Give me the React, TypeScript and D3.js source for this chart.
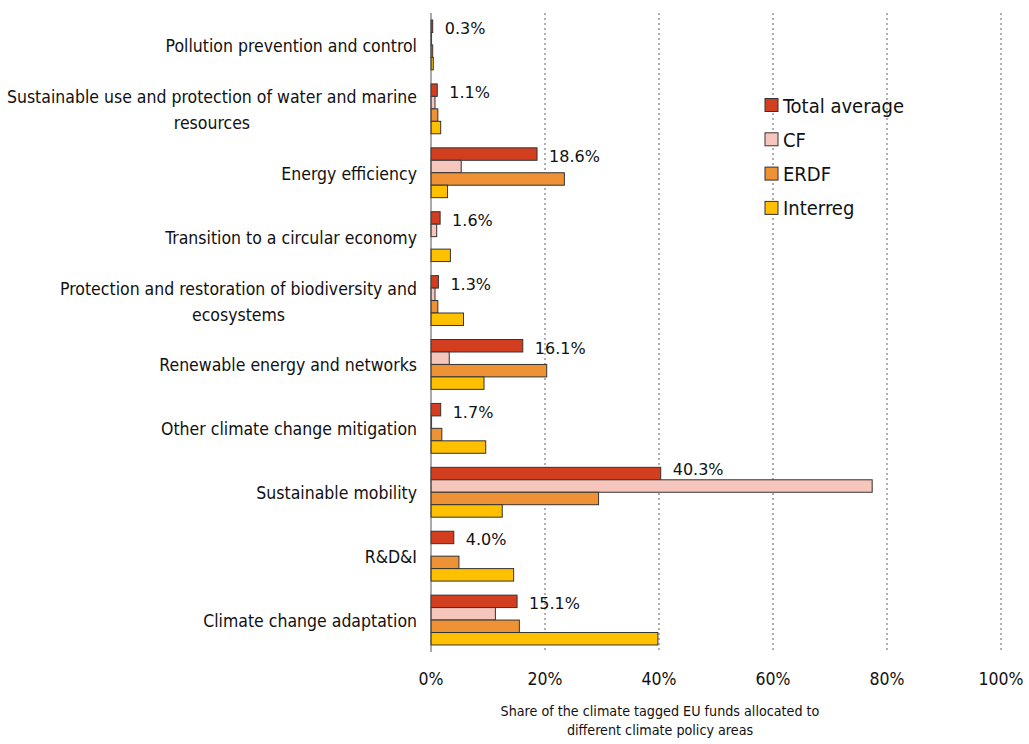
import React, { useEffect, useRef } from "react";
import * as d3 from "d3";

const categories = [
  "Pollution prevention and control",
  "Sustainable use and protection of water and marine\nresources",
  "Energy efficiency",
  "Transition to a circular economy",
  "Protection and restoration of biodiversity and\necosystems",
  "Renewable energy and networks",
  "Other climate change mitigation",
  "Sustainable mobility",
  "R&D&I",
  "Climate change adaptation",
];
const seriesNames = ["Total average", "CF", "ERDF", "Interreg"];
const totalAverage = [0.3, 1.1, 18.6, 1.6, 1.3, 16.1, 1.7, 40.3, 4.0, 15.1];
const cf = [0.1, 0.7, 5.3, 1.0, 0.7, 3.2, 0.1, 77.4, 0, 11.3];
const erdf = [0.3, 1.2, 23.4, 0, 1.2, 20.3, 1.9, 29.4, 4.9, 15.5];
const interreg = [0.4, 1.7, 2.9, 3.4, 5.7, 9.3, 9.6, 12.5, 14.5, 39.8];
const xTicks = [0, 20, 40, 60, 80, 100];
const axisTitle = ["Share of the climate tagged EU funds allocated to", "different climate policy areas"];

const colors = ["#d23e1f", "#f6c5bc", "#ef9236", "#ffc000"];
const narrow = "'Liberation Sans Narrow', 'DejaVu Sans Condensed', sans-serif";

export default function App() {
  const ref = useRef<SVGSVGElement>(null);

  useEffect(() => {
    const svg = d3.select(ref.current);
    svg.selectAll("*").remove();

    const x = d3.scaleLinear().domain([0, 100]).range([431, 1001]);
    const y = d3
      .scaleBand<string>()
      .domain(categories)
      .range([13, 652])
      .paddingInner(0.22)
      .paddingOuter(0.11);
    const inner = d3
      .scaleBand<string>()
      .domain(seriesNames)
      .range([0, y.bandwidth()]);

    const series = [totalAverage, cf, erdf, interreg];

    // dotted gridlines
    svg
      .append("g")
      .selectAll("line")
      .data(xTicks.slice(1))
      .enter()
      .append("line")
      .attr("x1", d => x(d))
      .attr("x2", d => x(d))
      .attr("y1", 13)
      .attr("y2", 652)
      .attr("stroke", "#b0b0b0")
      .attr("stroke-width", 2)
      .attr("stroke-dasharray", "2,3");

    // bars
    const groups = svg
      .append("g")
      .selectAll("g")
      .data(categories)
      .enter()
      .append("g")
      .attr("transform", d => `translate(0, ${y(d)})`);

    groups.each(function (_c, i) {
      const g = d3.select(this);
      series.forEach((vals, s) => {
        const v = vals[i];
        if (v <= 0) return;
        g.append("rect")
          .attr("x", x(0))
          .attr("y", inner(seriesNames[s]) as number)
          .attr("width", x(v) - x(0))
          .attr("height", inner.bandwidth())
          .attr("fill", colors[s])
          .attr("stroke", "#333")
          .attr("stroke-width", 1);
      });
      // label sits a bit higher when the CF bar below is longer
      const raise = cf[i] > totalAverage[i] + 2;
      g.append("text")
        .attr("x", x(totalAverage[i]) + 12)
        .attr("y", (inner(seriesNames[0]) as number) + inner.bandwidth() / 2 + (raise ? 1.5 : 8))
        .attr("font-family", "'DejaVu Sans', sans-serif")
        .attr("font-size", 16)
        .attr("fill", "#111")
        .text(`${totalAverage[i].toFixed(1)}%`);
    });

    // vertical axis line
    svg
      .append("line")
      .attr("x1", x(0))
      .attr("x2", x(0))
      .attr("y1", 13)
      .attr("y2", 652)
      .attr("stroke", "#555")
      .attr("stroke-width", 1);

    // category labels
    const labelRight = 417;
    categories.forEach(c => {
      const lines = c.split("\n");
      const cy = (y(c) as number) + y.bandwidth() / 2;
      const lh = 26;
      const t = svg
        .append("text")
        .attr("font-family", narrow)
        .attr("font-size", 17.5)
        .attr("fill", "#111")
        .attr("text-anchor", "end")
        .attr("x", labelRight)
        .attr("y", cy + 7 - ((lines.length - 1) * lh) / 2)
        .text(lines[0]);
      if (lines.length > 1) {
        const w = (t.node() as SVGTextElement).getComputedTextLength();
        const mid = labelRight - w / 2;
        t.attr("text-anchor", "middle").attr("x", mid);
        lines.slice(1).forEach((ln, k) => {
          svg
            .append("text")
            .attr("font-family", narrow)
            .attr("font-size", 17.5)
            .attr("fill", "#111")
            .attr("text-anchor", "middle")
            .attr("x", mid)
            .attr("y", cy + 7 - ((lines.length - 1) * lh) / 2 + (k + 1) * lh)
            .text(ln);
        });
      }
    });

    // x tick labels
    svg
      .append("g")
      .selectAll("text")
      .data(xTicks)
      .enter()
      .append("text")
      .attr("x", d => x(d))
      .attr("y", 685)
      .attr("text-anchor", "middle")
      .attr("font-family", narrow)
      .attr("font-size", 17.5)
      .attr("fill", "#111")
      .text(d => `${d}%`);

    // axis title
    axisTitle.forEach((ln, k) => {
      svg
        .append("text")
        .attr("x", 660)
        .attr("y", 716 + k * 18.5)
        .attr("text-anchor", "middle")
        .attr("font-family", narrow)
        .attr("font-size", 14.2)
        .attr("fill", "#111")
        .text(ln);
    });

    // legend
    const legend = svg
      .append("g")
      .selectAll("g")
      .data(seriesNames)
      .enter()
      .append("g")
      .attr("transform", (_d, i) => `translate(765, ${105 + i * 34.3})`);
    legend
      .append("rect")
      .attr("x", 0)
      .attr("y", -6.5)
      .attr("width", 13)
      .attr("height", 13)
      .attr("fill", (_d, i) => colors[i])
      .attr("stroke", "#333")
      .attr("stroke-width", 1);
    legend
      .append("text")
      .attr("x", 18)
      .attr("y", 7.5)
      .attr("font-family", narrow)
      .attr("font-size", 20)
      .attr("fill", "#111")
      .text(d => d);
  }, []);

  return (
    <svg
      ref={ref}
      width={1029}
      height={744}
      style={{ position: "absolute", left: 0, top: 0, background: "#fff" }}
    />
  );
}
